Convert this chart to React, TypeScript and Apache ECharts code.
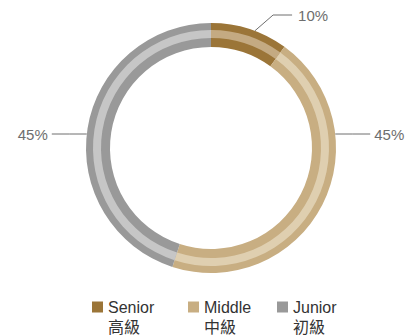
import React, { useEffect, useRef } from "react";
import * as echarts from "echarts";

const categories = ["Senior", "Middle", "Junior"];
const categoriesZh = ["高級", "中級", "初級"];
const values = [10, 45, 45];
const darkColors = ["#9b7538", "#c8ae82", "#999999"];
const lightColors = ["#c4aa82", "#dfcfb0", "#c6c6c6"];

const CX = 211;
const CY = 148;
const R_OUT = 125;
const R_IN = 101;
const FONT = "'Liberation Sans', Arial, 'Noto Sans CJK TC', sans-serif";
const LEGEND_LEFT = [92, 188, 277];

export default function App() {
  const ref = useRef<HTMLDivElement>(null);
  useEffect(() => {
    if (!ref.current) return;
    const chart = echarts.init(ref.current, undefined, { renderer: "svg" });
    const data = categories.map((name, i) => ({
      name,
      value: values[i],
      itemStyle: { color: darkColors[i] },
    }));
    const lightData = categories.map((name, i) => ({
      name,
      value: values[i],
      itemStyle: { color: lightColors[i] },
    }));
    const labelY = 134;
    const legends = categories.map((name, i) => ({
      data: [name],
      left: LEGEND_LEFT[i],
      top: 277,
      padding: 0,
      icon: "rect",
      itemWidth: 11,
      itemHeight: 11,
      selectedMode: false,
      formatter: (n: string) => " \n" + n + "\n" + categoriesZh[categories.indexOf(n)],
      textStyle: {
        fontFamily: FONT,
        fontSize: 16,
        color: "#333333",
        lineHeight: 20,
      },
    }));
    chart.setOption({
      animation: false,
      legend: legends,
      series: [
        {
          type: "pie",
          center: [CX, CY],
          radius: [R_IN, R_OUT],
          startAngle: 90,
          clockwise: true,
          silent: true,
          data,
          label: {
            show: true,
            formatter: "{c}%",
            fontFamily: FONT,
            fontSize: 15,
            color: "#6e6e6e",
          },
          labelLine: {
            show: true,
            length: 10,
            length2: 10,
            lineStyle: { color: "#6e6e6e", width: 1 },
          },
          labelLayout: (params: any) => {
            const i = params.dataIndex;
            if (i === 0) {
              const a = (20.5 * Math.PI) / 180;
              const p0 = [CX + R_OUT * Math.sin(a), CY - R_OUT * Math.cos(a)];
              const yL = 15;
              const xBend = p0[0] + (p0[1] - yL) * 1.15;
              return {
                x: xBend + 25,
                y: yL,
                align: "left",
                verticalAlign: "middle",
                labelLinePoints: [p0, [xBend, yL], [xBend + 19, yL]],
              };
            }
            const dy = CY - labelY;
            const dx = Math.sqrt(R_OUT * R_OUT - dy * dy);
            if (i === 1) {
              const x0 = CX + dx;
              return {
                x: x0 + 39,
                y: labelY,
                align: "left",
                verticalAlign: "middle",
                labelLinePoints: [[x0, labelY], [x0 + 17, labelY], [x0 + 35, labelY]],
              };
            }
            const x0 = CX - dx;
            return {
              x: x0 - 39,
              y: labelY,
              align: "right",
              verticalAlign: "middle",
              labelLinePoints: [[x0, labelY], [x0 - 17, labelY], [x0 - 35, labelY]],
            };
          },
        },
        {
          type: "pie",
          center: [CX, CY],
          radius: [110, 118],
          startAngle: 90,
          clockwise: true,
          silent: true,
          data: lightData,
          label: { show: false },
          labelLine: { show: false },
        },
      ],
    });
    return () => chart.dispose();
  }, []);
  return (
    <div
      ref={ref}
      style={{ position: "fixed", left: 0, top: 0, width: 409, height: 336, background: "#ffffff" }}
    />
  );
}
